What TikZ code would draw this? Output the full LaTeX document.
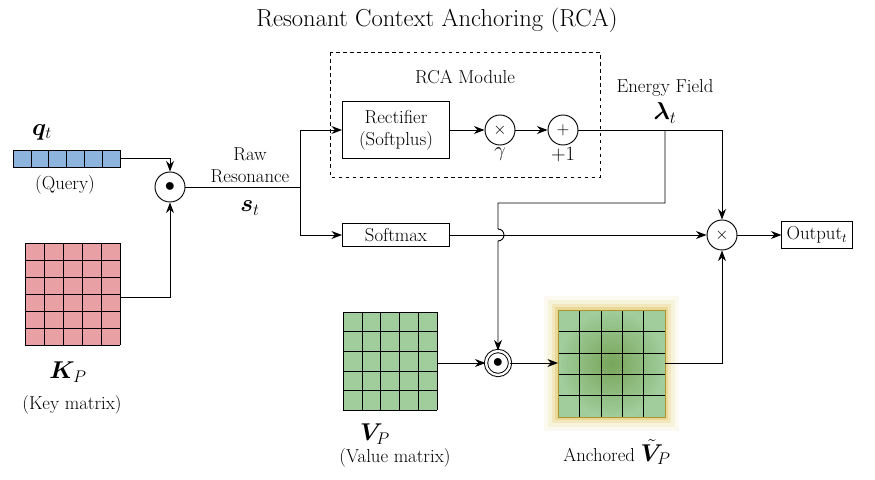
\documentclass[tikz,border=0pt]{standalone}
\usepackage{amsmath,bm}
\usetikzlibrary{positioning,arrows.meta}
\definecolor{qblue}{RGB}{140,180,220}
\definecolor{kred}{RGB}{232,160,165}
\definecolor{vgreen}{RGB}{160,205,155}
\definecolor{agreen}{RGB}{120,165,90}
\definecolor{glow}{RGB}{215,185,60}
\tikzset{every path/.style={thick}, >={Stealth[length=9pt]},
  every node/.style={font=\fontsize{16}{19}\selectfont},
  big/.style={font=\fontsize{20}{24}\selectfont},
  box/.style={draw,thick,align=center,inner sep=4pt},
  op/.style={draw,thick,circle,minimum size=30*0.03cm,inner sep=0pt}}

\begin{document}
\begin{tikzpicture}[x=0.03cm,y=-0.03cm]
  \useasboundingbox (0,0) rectangle (875,479);
  \node[font=\fontsize{21}{25}\selectfont] at (437,20) {Resonant Context Anchoring (RCA)};
  % query vector
  \fill[qblue] (13,150) rectangle (120,167);
  \foreach \i in {0,...,6} \draw[thin] (13+\i*17.83,150) -- (13+\i*17.83,167);
  \draw[thin] (13,150) rectangle (120,167);
  \node[big] (q) at (42,132) {$\bm{q}_t$};
  \node (qlab) at (65,185) {(Query)};
  % key matrix
  \fill[kred] (25,243) rectangle (120,345);
  \foreach \i in {0,...,5} \draw[thin] (25+\i*19,243) -- (25+\i*19,345);
  \foreach \j in {0,...,6} \draw[thin] (25,243+\j*17) -- (120,243+\j*17);
  \node[big] (k) at (68,372) {$\bm{K}_P$};
  \node (klab) at (72,405) {(Key matrix)};
  % dot product
  \node[op] (dot) at (170,187) {$\bullet$};
  \draw[->] (120,158) -| (dot);
  \draw[->] (120,297) -| (dot);
  \coordinate (split) at (300,187);
  \draw (dot) -- (split);
  \node[align=center] at (250,165) {Raw\\Resonance};
  \node[big] at (250,208) {$\bm{s}_t$};
  % RCA module
  \draw[dashed] (330,52) rectangle (600,177);
  \node at (465,77) {RCA Module};
  \node[box,minimum width=107*0.03cm,minimum height=57*0.03cm] (rect) at (396,130) {Rectifier\\(Softplus)};
  \node[op] (mul) at (500,130) {\Large$\times$};
  \node[op] (add) at (563,130) {\Large$+$};
  \node[below=-2pt of mul] {$\gamma$};
  \node[below=-2pt of add] {$+1$};
  \node[box,minimum width=107*0.03cm] (soft) at (396,235) {Softmax};
  \draw[->] (split) |- (rect);
  \draw[->] (split) |- (soft);
  \draw[->] (rect) -- (mul);
  \draw[->] (mul) -- (add);
  % energy field
  \node[op] (prod) at (722,235) {\Large$\times$};
  \node[box] (out) at (817,235) {Output$_t$};
  \node at (665,88) {Energy Field};
  \node[big] at (665,113) {$\bm{\lambda}_t$};
  \draw[->] (add) -| (prod);
  \draw[->] (soft) -- (prod);
  \draw[->] (prod) -- (out);
  % value matrix
  \fill[vgreen] (343,312) rectangle (437,410);
  \foreach \i in {0,...,5} \draw[thin] (343+\i*18.8,312) -- (343+\i*18.8,410);
  \foreach \j in {0,...,5} \draw[thin] (343,312+\j*19.6) -- (437,312+\j*19.6);
  \node[big] (v) at (375,434) {$\bm{V}_P$};
  \node (vlab) at (395,458) {(Value matrix)};
  % anchoring
  \node[op,double,double distance=2pt,minimum size=24*0.03cm] (anc) at (498,363) {$\bullet$};
  \draw[->] (437,363) -- (anc);
  \draw[->] (665,130) -- (665,203) -- (498,203) -- (498,229)
    arc[start angle=-90,end angle=90,radius=6] -- (anc);
  % anchored matrix
  \foreach \g/\o in {14/0.08,10/0.12,6/0.18,3/0.3}
    \fill[glow,opacity=\o] (558-\g,310-\g) rectangle (665+\g,417+\g);
  \shade[inner color=agreen,outer color=vgreen] (558,310) rectangle (665,417);
  \foreach \i in {0,...,5} \draw[thin] (558+\i*21.4,310) -- (558+\i*21.4,417);
  \foreach \j in {0,...,5} \draw[thin] (558,310+\j*21.4) -- (665,310+\j*21.4);
  \draw[glow!80!black] (558,310) rectangle (665,417);
  \draw[->] (anc) -- (558,363);
  \draw[->] (665,363) -| (prod);
  \node at (617,452) {Anchored {\fontsize{20}{24}\selectfont$\tilde{\bm{V}}_P$}};
\end{tikzpicture}
\end{document}
